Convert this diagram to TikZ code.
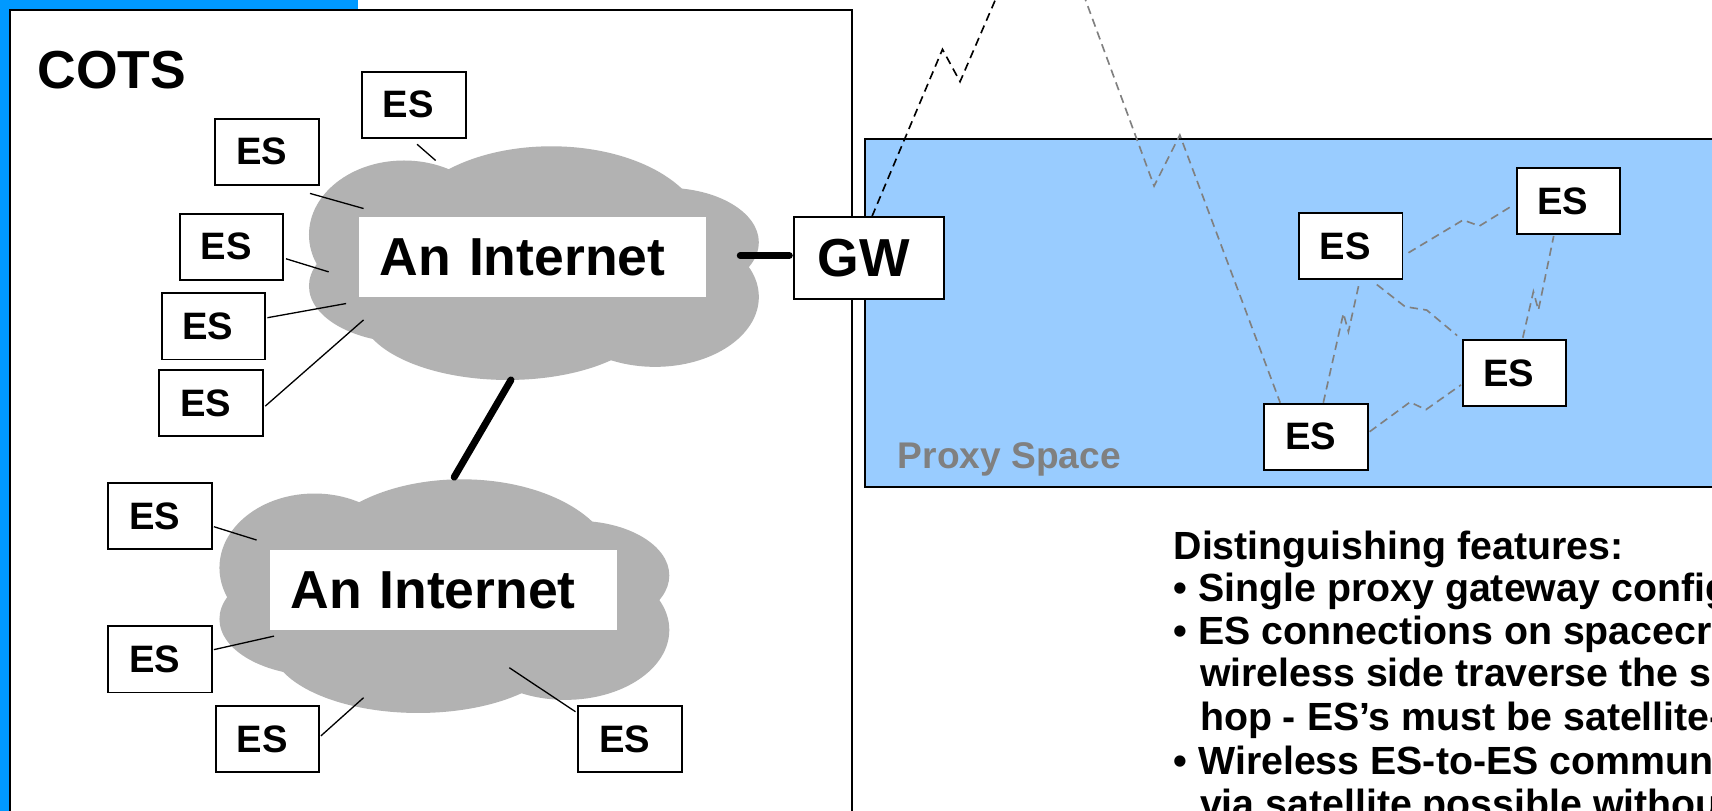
\documentclass[tikz,border=0pt]{standalone}
\usepackage{fontspec}
\setmainfont{Liberation Sans}
\usetikzlibrary{calc}
\definecolor{cotsblue}{HTML}{0099FF}
\definecolor{proxyblue}{HTML}{99CCFF}
\definecolor{cloudgray}{HTML}{B2B2B2}
\definecolor{dashgray}{HTML}{808080}
\tikzset{
  esbox/.style={draw=black, line width=0.9pt, fill=white, minimum width=47.5pt, minimum height=30.25pt, inner sep=0pt, font=\fontsize{17.5}{20}\selectfont\bfseries},
  inetbox/.style={fill=white, minimum height=36.5pt, inner xsep=9.5pt, inner ysep=0pt, text width=140pt, align=left, font=\fontsize{24.5}{28}\selectfont\bfseries},
  gwbox/.style={draw=black, line width=0.9pt, fill=white, minimum width=69pt, minimum height=37.5pt, inner sep=0pt, font=\fontsize{24.5}{30}\selectfont\bfseries},
  bigtext/.style={anchor=base west, inner sep=0pt, font=\fontsize{24.5}{30}\selectfont\bfseries},
  feat/.style={anchor=base west, inner sep=0pt, font=\fontsize{18}{20}\selectfont\bfseries},
  wire/.style={line width=0.6pt},
  trunk/.style={line width=3.2pt, line cap=round},
  satdash/.style={line width=0.75pt, dash pattern=on 3.8pt off 2.4pt},
  graydash/.style={satdash, draw=dashgray},
}
\newcommand\cloudfill[1]{%
  \begin{scope}[shift={#1}]
    \fill[cloudgray] (505,215) ellipse[x radius=70pt, y radius=40.5pt];
    \fill[cloudgray] (370,215) ellipse[x radius=43.5pt, y radius=34pt];
    \fill[cloudgray] (375,262) ellipse[x radius=46pt, y radius=26pt];
    \fill[cloudgray] (465,285) ellipse[x radius=67.5pt, y radius=31.5pt];
    \fill[cloudgray] (600,272) ellipse[x radius=47.5pt, y radius=32pt];
    \fill[cloudgray] (610,222) ellipse[x radius=42.5pt, y radius=25pt];
    \fill[cloudgray] (490,245) ellipse[x radius=75pt, y radius=35pt];
  \end{scope}}
\newcommand\lbl[1]{#1\kern5pt\relax}
\begin{document}
\begin{tikzpicture}[x=0.5pt, y=-0.5pt]
\useasboundingbox (0,0) rectangle (1568,742);
\clip (0,0) rectangle (1568,742);
\fill[white] (0,0) rectangle (1568,742);
% blue band behind the COTS box
\fill[cotsblue] (0,-5) rectangle (328,760);
% COTS box
\draw[fill=white, line width=0.8pt] (9,9) rectangle (780,800);
% Proxy space box
\draw[fill=proxyblue, line width=0.8pt] (792.5,127.5) rectangle (1600,446);
% clouds
\cloudfill{(0,0)}
\cloudfill{(-82,305)}
\node[inetbox] (inet1) at (488,235.5) {An Internet};
\node[inetbox] (inet2) at (406,540.5) {An Internet};
\node[bigtext] (cots) at (34,81.5) {COTS};
% ES nodes, upper cloud
\node[esbox] (es1) at (379,96) {\lbl{ES}};
\node[esbox] (es2) at (244.5,139) {\lbl{ES}};
\node[esbox] (es3) at (212,226) {\lbl{ES}};
\node[esbox] (es4) at (195.5,299) {\lbl{ES}};
\node[esbox] (es5) at (193.5,369) {\lbl{ES}};
% ES nodes, lower cloud
\node[esbox] (esa) at (146.5,473) {\lbl{ES}};
\node[esbox] (esb) at (146.5,604) {\lbl{ES}};
\node[esbox] (esc) at (245,677) {\lbl{ES}};
\node[esbox] (esd) at (577,677) {\lbl{ES}};
% cloud attachment points
\coordinate (k1) at (399,147);
\coordinate (k2) at (333,191);
\coordinate (k3) at (301,249);
\coordinate (k4) at (317,278);
\coordinate (k5) at (333,293);
\coordinate (ka) at (235,494.6);
\coordinate (kb) at (251,582.6);
\coordinate (kc) at (333,639);
\coordinate (kd) at (466.5,611.6);
\draw[wire] ($(es1.south)+(3,5)$) -- (k1);
\draw[wire] ($(es2.south east)+(-9,7)$) -- (k2);
\draw[wire] ($(es3.east)+(1.5,11)$) -- (k3);
\draw[wire] ($(es4.east)+(1,-8)$) -- (k4);
\draw[wire] ($(es5.east)+(1,3)$) -- (k5);
\draw[wire] ($(esa.east)+(1,9.4)$) -- (ka);
\draw[wire] ($(esb.east)+(1,-9)$) -- (kb);
\draw[wire] ($(esc.east)+(0.5,-3)$) -- (kc);
\draw[wire] ($(esd.north west)+(-1.5,6)$) -- (kd);
% gateway
\node[gwbox] (gw) at (796,236.5) {\lbl{GW}};
\coordinate (cr) at (678,234);
\draw[trunk, shorten >=1.6pt] (cr) -- ($(gw.west)+(0,-2.5)$);
\coordinate (ct) at (468,348);
\coordinate (cb) at (416,437);
\draw[trunk] (ct) -- (cb);
% proxy space ES nodes
\node[esbox] (p1) at (1237,225.5) {\lbl{ES}};
\node[esbox] (p2) at (1436.5,184) {\lbl{ES}};
\node[esbox] (p3) at (1387,341.5) {\lbl{ES}};
\node[esbox] (p4) at (1205.5,400) {\lbl{ES}};
\node[anchor=base west, inner sep=0pt, text=dashgray, font=\fontsize{17}{20}\selectfont\bfseries] (proxy) at (822,429) {Proxy Space};
% satellite links
\coordinate (sat1) at (915,-8);
\coordinate (sat2) at (992,-6);
\draw[satdash] ($(gw.north)+(2.7,0)$) -- (863.2,45.2) -- (879.3,74.8) -- (sat1);
\draw[graydash] (sat2) -- (1057,170.4) -- (1080.6,123.7) -- ($(p4.north)+(-33,0)$);
\draw[graydash] ($(p4.north)+(6.5,0)$) -- (1230.4,287) -- (1235,303.8) -- ($(p1.south)+(8,2)$);
\draw[graydash] ($(p3.north)+(7.7,-1)$) -- (1404.4,267.1) -- (1409,284) -- ($(p2.south)+(-13.5,1)$);
\draw[graydash] ($(p1.south)+(24,4)$) -- (1286.9,280.9) -- (1306.7,284) -- ($(p3.north west)+(-4,-3)$);
\draw[graydash] ($(p1.east)+(4.6,6)$) -- (1340,201.5) -- (1355,207) -- ($(p2.west)+(-4,5)$);
\draw[graydash] ($(p4.east)+(0.5,-4.6)$) -- (1291.4,368.3) -- (1306,375.2) -- ($(p3.west)+(-0.5,11)$);
% features text
\node[feat] (f1) at (1074.5,512.3) {Distinguishing features:};
\node[feat] (f2) at (1074.5,550.6) {\textbullet\ Single proxy gateway configuration};
\node[feat] (f3) at (1074.5,589.9) {\textbullet\ ES connections on spacecraft};
\node[feat] (f4) at (1098.7,629.2) {wireless side traverse the satellite};
\node[feat] (f5) at (1098.7,668.6) {hop - ES’s must be satellite-aware};
\node[feat] (f6) at (1074.5,708.9) {\textbullet\ Wireless ES-to-ES communication};
\node[feat] (f7) at (1098.7,748.3) {via satellite possible without proxy};
\end{tikzpicture}
\end{document}
